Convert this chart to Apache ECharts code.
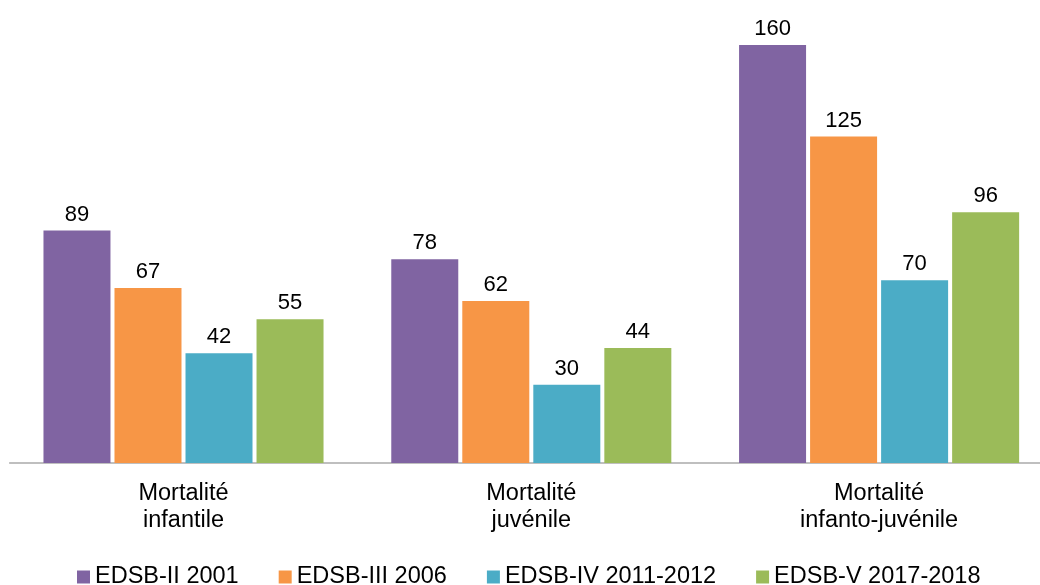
<!DOCTYPE html>
<html>
<head>
<meta charset="utf-8">
<script src="https://cdn.jsdelivr.net/npm/echarts@6/dist/echarts.min.js"></script>
<style>
  html, body { margin: 0; padding: 0; background: #ffffff; overflow: hidden; }
  /* the plot runs slightly past the right edge of the page */
  #chart { width: 1053px; height: 585px; }
</style>
</head>
<body>
<div id="chart"></div>
<script>
// Indicators (x-axis categories)
const categories = ['Mortalité\ninfantile', 'Mortalité\njuvénile', 'Mortalité\ninfanto-juvénile'];

// Survey rounds and their values (per 1000)
const seriesNames = ['EDSB-II 2001', 'EDSB-III 2006', 'EDSB-IV 2011-2012', 'EDSB-V 2017-2018'];
const edsb2001 = [89, 78, 160];
const edsb2006 = [67, 62, 125];
const edsb2011 = [42, 30, 70];
const edsb2017 = [55, 44, 96];

const seriesColors = ['#8064A2', '#F79646', '#4BACC6', '#9BBB59'];
const seriesValues = [edsb2001, edsb2006, edsb2011, edsb2017];

const FONT = '"Liberation Sans", Arial, sans-serif';

const chart = echarts.init(document.getElementById('chart'), null, { renderer: 'canvas' });

chart.setOption({
  animation: false,
  backgroundColor: '#ffffff',
  textStyle: { fontFamily: FONT, color: '#000000' },
  grid: { left: 9.6, right: 0, top: 45, height: 418, containLabel: false },
  legend: {
    data: seriesNames,
    left: 72,
    top: 560,
    itemWidth: 13,
    itemHeight: 13,
    itemGap: 40,
    icon: 'rect',
    textStyle: { fontFamily: FONT, fontSize: 23.5, color: '#000000' }
  },
  xAxis: {
    type: 'category',
    data: categories,
    axisLine: { show: true, lineStyle: { color: '#ABABAB', width: 1.5 } },
    axisTick: { show: false },
    axisLabel: {
      margin: 17,
      fontFamily: FONT,
      fontSize: 23.5,
      lineHeight: 27,
      color: '#000000',
      interval: 0
    }
  },
  yAxis: {
    type: 'value',
    min: 0,
    max: 160,
    show: false,
    splitLine: { show: false }
  },
  series: seriesNames.map((name, i) => ({
    name: name,
    type: 'bar',
    data: seriesValues[i],
    barWidth: 67,
    barGap: '6%',
    itemStyle: { color: seriesColors[i] },
    label: {
      show: true,
      position: 'top',
      distance: 5,
      fontFamily: FONT,
      fontSize: 22,
      color: '#000000'
    }
  }))
});
</script>
</body>
</html>
